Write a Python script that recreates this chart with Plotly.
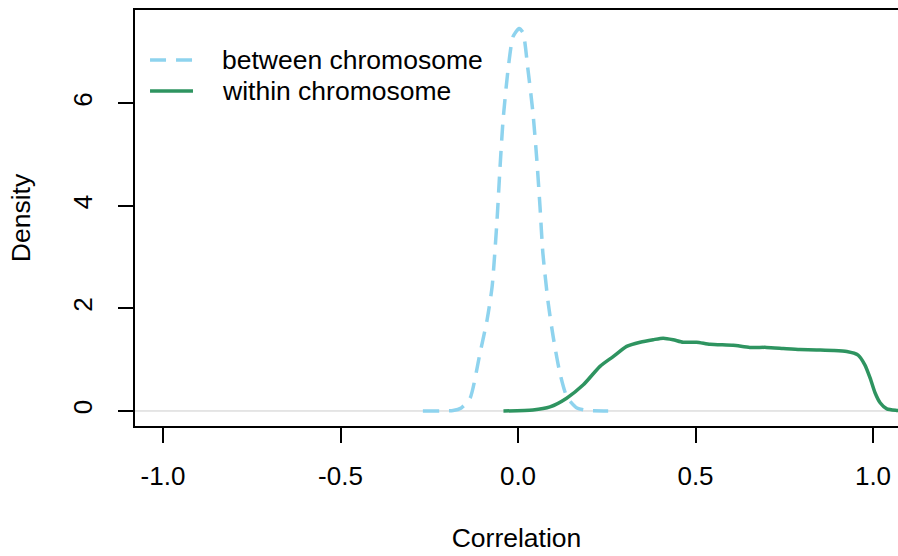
import plotly.graph_objects as go

# Between-chromosome density
between_x = [-0.268, -0.183, -0.160, -0.135, -0.107, -0.087, -0.073, -0.059, -0.051, -0.042,
             -0.028, -0.014, 0.003, 0.014, 0.028, 0.042, 0.053, 0.062, 0.070, 0.085,
             0.099, 0.118, 0.138, 0.166, 0.194, 0.254]
between_y = [0.0, 0.01, 0.06, 0.25, 1.13, 1.78, 2.42, 3.73, 4.71, 5.68,
             6.66, 7.30, 7.46, 7.38, 6.66, 5.82, 4.90, 3.98, 3.08, 2.11,
             1.45, 0.74, 0.27, 0.06, 0.01, 0.0]

# Within-chromosome density
within_x = [-0.041, 0.042, 0.090, 0.137, 0.184, 0.231, 0.268, 0.306, 0.344, 0.381,
            0.409, 0.437, 0.465, 0.503, 0.541, 0.606, 0.653, 0.700, 0.747, 0.794,
            0.841, 0.888, 0.926, 0.958, 0.977, 0.992, 1.006, 1.020, 1.039, 1.067, 1.09]
within_y = [0.0, 0.02, 0.08, 0.25, 0.51, 0.87, 1.06, 1.26, 1.34, 1.39,
            1.42, 1.39, 1.34, 1.34, 1.30, 1.28, 1.24, 1.24, 1.22, 1.20,
            1.19, 1.18, 1.16, 1.09, 0.90, 0.64, 0.35, 0.16, 0.04, 0.01, 0.0]

series_names = ["between chromosome", "within chromosome"]
series_colors = ["#8ed3ee", "#2e9460"]

x_ticks = [-1.0, -0.5, 0.0, 0.5, 1.0]
x_ticklabels = ["-1.0", "-0.5", "0.0", "0.5", "1.0"]
y_ticks = [0, 2, 4, 6]
y_ticklabels = ["0", "2", "4", "6"]

FONT = "Liberation Sans, Arial, Helvetica, sans-serif"
BETWEEN_DASH = "16px,10px"
LW = 3.5

fig = go.Figure()
fig.add_trace(go.Scatter(
    x=between_x, y=between_y, mode="lines", name=series_names[0], showlegend=False,
    line=dict(color=series_colors[0], width=LW, dash=BETWEEN_DASH, shape="spline", smoothing=0.6),
))
fig.add_trace(go.Scatter(
    x=within_x, y=within_y, mode="lines", name=series_names[1], showlegend=False,
    line=dict(color=series_colors[1], width=LW, shape="spline", smoothing=0.6),
))

# zero reference line
fig.add_hline(y=0, line=dict(color="#cccccc", width=1), layer="below")

# legend (R-style, inside top-left of plot box)
leg_rows_y = [0.8798, 0.8053]
leg_dash = [BETWEEN_DASH, "solid"]
for name, col, yy, dsh in zip(series_names, series_colors, leg_rows_y, leg_dash):
    fig.add_shape(type="line", xref="paper", yref="paper",
                  x0=0.0197, x1=0.0760, y0=yy, y1=yy,
                  line=dict(color=col, width=LW, dash=dsh))
    fig.add_annotation(xref="paper", yref="paper", x=0.112, y=yy,
                       xanchor="left", yanchor="middle", showarrow=False,
                       text=name, font=dict(size=26.5, family=FONT, color="black"))

fig.update_layout(
    width=898, height=556,
    margin=dict(l=135, r=0, t=10, b=130),
    paper_bgcolor="white", plot_bgcolor="white",
    font=dict(family=FONT, size=26, color="black"),
    showlegend=False,
    xaxis=dict(
        range=[-1.0789, 1.0704], showgrid=False, zeroline=False,
        tickmode="array", tickvals=x_ticks, ticktext=x_ticklabels,
        ticks="outside", ticklen=15, tickwidth=1.5, tickcolor="black",
        showline=True, linecolor="black", linewidth=1.5, mirror=True,
        ticklabelstandoff=11, tickfont=dict(size=26),
        title=dict(text="Correlation", standoff=38, font=dict(size=26.5)),
    ),
    yaxis=dict(
        range=[-0.293, 7.82], showgrid=False, zeroline=False,
        tickmode="array", tickvals=y_ticks, ticktext=y_ticklabels,
        ticks="outside", ticklen=15, tickwidth=1.5, tickcolor="black",
        showline=True, linecolor="black", linewidth=1.5, mirror=False,
        tickangle=-90, ticklabelstandoff=16, tickfont=dict(size=26),
        title=dict(text="Density", standoff=30, font=dict(size=26.5)),
    ),
)

fig.write_html("out.html")
